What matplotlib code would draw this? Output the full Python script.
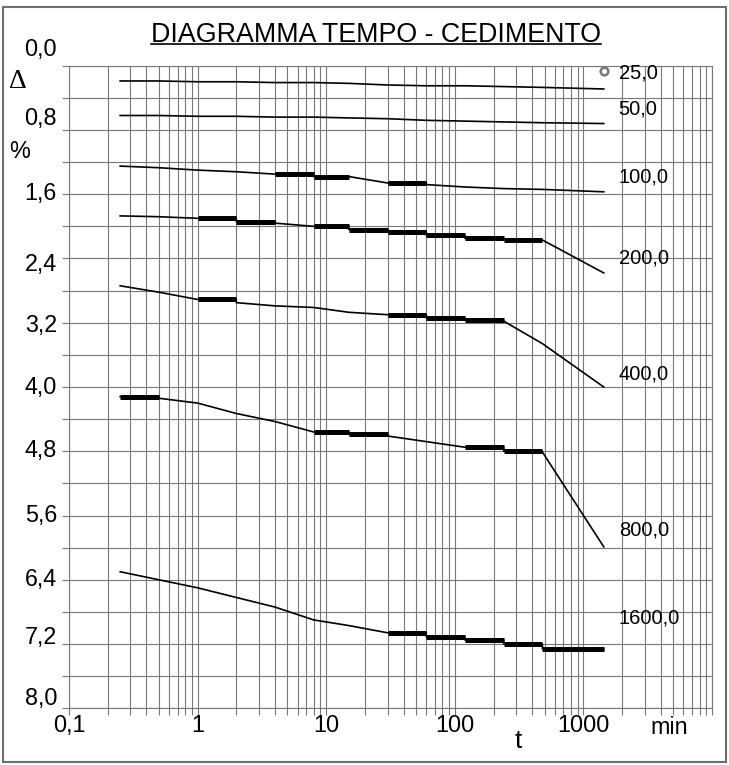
import numpy as np
import matplotlib
matplotlib.use("Agg")
import matplotlib.pyplot as plt
from matplotlib.patches import Rectangle
from matplotlib.lines import Line2D
from matplotlib.ticker import LogLocator, MultipleLocator, NullFormatter
from matplotlib.transforms import offset_copy

plt.rcParams['font.family'] = ['Liberation Sans', 'DejaVu Sans']

# reading times (min)
times = [0.25, 0.5, 1, 2, 4, 8, 15, 30, 60, 120, 240, 480, 1440]

# settlement (%) for each load step (kPa)
loads = ["25,0", "50,0", "100,0", "200,0", "400,0", "800,0", "1600,0"]
s25 = [0.19, 0.19, 0.20, 0.20, 0.21, 0.21, 0.22, 0.24, 0.25, 0.25, 0.26, 0.27, 0.29]
s50 = [0.62, 0.62, 0.63, 0.63, 0.64, 0.64, 0.65, 0.66, 0.68, 0.69, 0.70, 0.71, 0.72]
s100 = [1.25, 1.27, 1.30, 1.32, 1.35, 1.38, 1.38, 1.46, 1.48, 1.51, 1.53, 1.54, 1.57]
s200 = [1.87, 1.88, 1.90, 1.94, 1.96, 2.00, 2.04, 2.07, 2.11, 2.15, 2.17, 2.17, 2.58]
s400 = [2.74, 2.82, 2.91, 2.95, 2.99, 3.01, 3.07, 3.10, 3.14, 3.17, 3.18, 3.46, 4.00]
s800 = [4.12, 4.14, 4.20, 4.33, 4.43, 4.56, 4.59, 4.61, 4.68, 4.75, 4.80, 4.81, 5.99]
s1600 = [6.30, 6.40, 6.50, 6.62, 6.74, 6.90, 6.97, 7.06, 7.11, 7.15, 7.20, 7.26, 7.27]

# intervals (index i -> times[i]..times[i+1]) where the reading stays constant
flat25 = []
flat50 = []
flat100 = [4, 5, 7]
flat200 = [2, 3, 5, 6, 7, 8, 9, 10]
flat400 = [2, 7, 8, 9]
flat800 = [0, 5, 6, 9, 10]
flat1600 = [7, 8, 9, 10, 11]

# zero reading of the first step
zero_t = [1440]
zero_s = [0.07]

y_ticks = [0.0, 0.8, 1.6, 2.4, 3.2, 4.0, 4.8, 5.6, 6.4, 7.2, 8.0]
y_tick_labels = ["0,0", "0,8", "1,6", "2,4", "3,2", "4,0", "4,8", "5,6", "6,4", "7,2", "8,0"]
x_ticks = [0.1, 1, 10, 100, 1000]
x_tick_labels = ["0,1", "1", "10", "100", "1000"]

series = [s25, s50, s100, s200, s400, s800, s1600]
flats = [flat25, flat50, flat100, flat200, flat400, flat800, flat1600]

W, H = 729, 765
fig = plt.figure(figsize=(W / 100, H / 100), dpi=100)
ax = fig.add_axes([69 / W, 1 - 708.3 / H, 643 / W, 642.6 / H])

grid_c = '#787878'
ax.set_xscale('log')
ax.set_xlim(0.1, 10000)
ax.set_ylim(8.0, 0.0)
ax.xaxis.set_major_locator(LogLocator(base=10, numticks=10))
ax.xaxis.set_minor_locator(LogLocator(base=10, subs=np.arange(2, 10), numticks=100))
ax.yaxis.set_major_locator(MultipleLocator(0.4))
ax.xaxis.set_major_formatter(NullFormatter())
ax.xaxis.set_minor_formatter(NullFormatter())
ax.yaxis.set_major_formatter(NullFormatter())
ax.tick_params(which='both', direction='out', length=5, width=0.8, color=grid_c)
ax.grid(which='both', color=grid_c, lw=0.8)
for sp in ax.spines.values():
    sp.set_color(grid_c)
    sp.set_linewidth(0.8)

thin, thick = 1.2, 3.6
for vals, flat in zip(series, flats):
    # staircase path: flat intervals keep the level of their first reading
    px, py = [times[0]], [vals[0]]
    for i in range(len(times) - 1):
        if i in flat:
            px += [times[i + 1], times[i + 1]]
            py += [vals[i], vals[i + 1]]
            ax.plot([times[i], times[i + 1]], [vals[i], vals[i]], color='black',
                    lw=thick, solid_capstyle='butt')
        else:
            px.append(times[i + 1])
            py.append(vals[i + 1])
    ax.plot(px, py, color='black', lw=thin)

ax.plot(zero_t, zero_s, 'o', ms=5.5, mfc='white', mec='#777777', mew=1.8)

# load labels at the right end of each curve
label_shift = [0.20, 0.18, 0.19, 0.18, 0.16, 0.21, 0.39]
for name, vals, dy in zip(loads, series, label_shift):
    ax.text(1880, vals[-1] - dy, name, ha='left', va='center', fontsize=14.5)

# y tick labels (slightly nudged like the original)
y_nudge = [16, 11, 1, -6, -3, -1, 1, 0, 0, 7, 10]
for v, s, dn in zip(y_ticks, y_tick_labels, y_nudge):
    tr = offset_copy(ax.get_yaxis_transform(), fig=fig, x=-12, y=dn, units='dots')
    ax.text(0, v, s, transform=tr, ha='right', va='center', fontsize=16.8,
            clip_on=False)

for v, s in zip(x_ticks, x_tick_labels):
    tr = offset_copy(ax.get_xaxis_transform(), fig=fig, x=0, y=-17, units='dots')
    ax.text(v, 0, s, transform=tr, ha='center', va='center', fontsize=16.8,
            clip_on=False)

fig.text(518 / W, 1 - 741 / H, "t", ha='center', va='center', fontsize=19)
fig.text(669 / W, 1 - 727 / H, "min", ha='center', va='center', fontsize=16.8)
fig.text(18 / W, 1 - 82 / H, "Δ", ha='center', va='center', fontsize=20,
         family=['Liberation Serif', 'DejaVu Serif'])
fig.text(20 / W, 1 - 152 / H, "%", ha='center', va='center', fontsize=16.8)

title = fig.text(376 / W, 1 - 41.7 / H, "DIAGRAMMA TEMPO - CEDIMENTO",
                 ha='center', va='baseline', fontsize=19.3)
fig.canvas.draw()
bb = title.get_window_extent()
uy = 1 - 43.8 / H
fig.add_artist(Line2D([bb.x0 / W, bb.x1 / W], [uy, uy], color='black', lw=1.2))

# outer frame
fig.add_artist(Rectangle((3.3 / W, 1 - 762 / H), (725.5 - 3.3) / W, (762 - 6.7) / H,
                         fill=False, ec='#6e6e6e', lw=1.5, transform=fig.transFigure))

fig.savefig("out.png", dpi=100)
